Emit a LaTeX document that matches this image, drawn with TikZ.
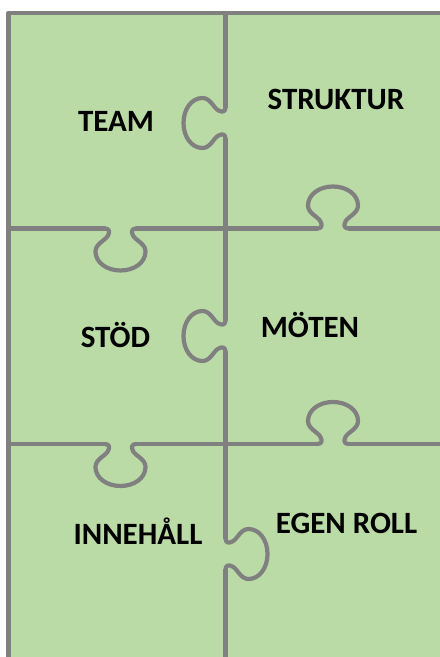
\documentclass[tikz,border=0pt]{standalone}
\usepackage{fontspec}
\setmainfont{Carlito}
\definecolor{pfill}{RGB}{186,219,165}
\definecolor{pline}{RGB}{128,128,128}
\tikzset{
  edge/.style={draw=pline, line width=4.2bp, line cap=round, line join=round},
  lbl/.style={font=\fontsize{31bp}{36bp}\selectfont\bfseries, anchor=base, inner sep=0pt, text=black},
  knob/.pic={
    \draw[edge] (-16,0) .. controls (-11,0) and (-10.5,3) .. (-12.5,7)
      .. controls (-15,12) and (-25,15) .. (-25,23)
      .. controls (-25,34) and (-13.8,42) .. (0,42)
      .. controls (13.8,42) and (25,34) .. (25,23)
      .. controls (25,15) and (15,12) .. (12.5,7)
      .. controls (10.5,3) and (11,0) .. (16,0);
  }
}
\begin{document}
\begin{tikzpicture}[x=1bp,y=1bp]
\useasboundingbox (0,0) rectangle (440,657);
\fill[pfill] (8.5,0) rectangle (440,644);
% outer border
\draw[edge] (440,644) -- (8.5,644) -- (8.5,0);
% vertical divider
\draw[edge] (225.5,644) -- (225.5,550);
\pic[rotate=90] at (225.5,534) {knob};
\draw[edge] (225.5,518) -- (225.5,337);
\pic[rotate=90] at (225.5,321) {knob};
\draw[edge] (225.5,305) -- (225.5,119);
\pic[rotate=-90] at (225.5,103) {knob};
\draw[edge] (225.5,87) -- (225.5,0);
% horizontal line 1
\draw[edge] (8.5,428.5) -- (104.5,428.5);
\pic[rotate=180] at (120.5,428.5) {knob};
\draw[edge] (136.5,428.5) -- (317,428.5);
\pic at (333,428.5) {knob};
\draw[edge] (349,428.5) -- (440,428.5);
% horizontal line 2
\draw[edge] (8.5,213) -- (104.5,213);
\pic[rotate=180] at (120.5,213) {knob};
\draw[edge] (136.5,213) -- (317,213);
\pic at (333,213) {knob};
\draw[edge] (349,213) -- (440,213);
% labels
\node[lbl] (team) at (116,525) {TEAM};
\node[lbl] (struktur) at (336,547) {STRUKTUR};
\node[lbl] (stod) at (115.5,309) {STÖD};
\node[lbl] (moten) at (310,319) {MÖTEN};
\node[lbl] (innehall) at (138,112) {INNEHÅLL};
\node[lbl] (egenroll) at (346.5,123) {EGEN ROLL};
\end{tikzpicture}
\end{document}
